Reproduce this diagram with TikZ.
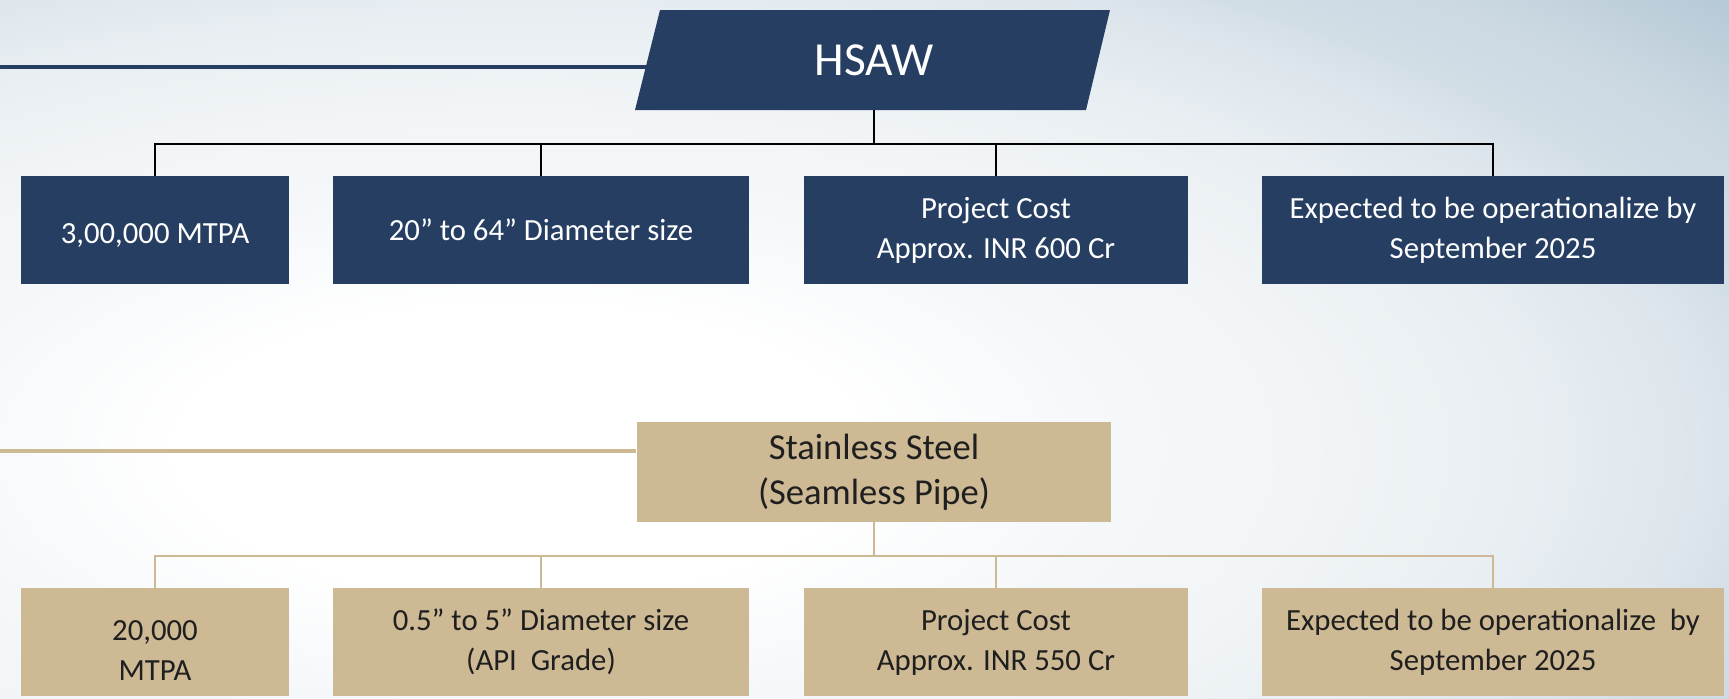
\documentclass[tikz,border=0pt]{standalone}
\usepackage{fontspec}
\setmainfont{Carlito}
\usetikzlibrary{positioning}

\definecolor{hsawblue}{RGB}{39,62,99}
\definecolor{sstan}{RGB}{205,185,148}
\definecolor{bgblue}{RGB}{166,189,205}
\pgfdeclareradialshading{bgglow}{\pgfpoint{0bp}{0bp}}{color(0bp)=(white); color(6bp)=(white); color(10bp)=(bgblue!10); color(14bp)=(bgblue!15); color(18.5bp)=(bgblue!27); color(21bp)=(bgblue!38); color(22.5bp)=(bgblue!50); color(25bp)=(bgblue!58); color(29bp)=(bgblue!85); color(37.5bp)=(bgblue!95)}

\tikzset{
  navybox/.style={fill=hsawblue, text=white, minimum height=2.16cm, inner sep=0pt,
    align=center, font=\fontsize{17.5}{22.8}\selectfont},
  tanbox/.style={navybox, fill=sstan, text=black!88},
  hsawline/.style={line width=0.85pt, black},
  ssline/.style={line width=1.1pt, sstan}
}

\begin{document}
\begin{tikzpicture}[x=0.02cm, y=-0.02cm]
  \useasboundingbox (0,0) rectangle (1729,698);
  \begin{scope}
    \clip (0,0) rectangle (1729,698);
    \shade[shading=bgglow] (-880,-150) rectangle (1920,1050);
  \end{scope}

  \coordinate (hsawfeed) at (0,67);
  \draw[hsawblue, line width=2.8pt] (hsawfeed) -- (660,67);
  \fill[hsawblue] (635,110) -- (660,10) -- (1110,10) -- (1086,110) -- cycle;
  \node[minimum width=9cm, minimum height=2cm, inner sep=0pt, text=white,
    font=\fontsize{27}{32}\selectfont] (hsaw) at (874,60) {HSAW};

  \node[navybox, minimum width=5.36cm] (h1) at (155,230) {\rule{0pt}{0.63cm}3,00,000 MTPA};
  \node[navybox, minimum width=8.32cm] (h2) at (541,230) {20” to 64” Diameter size};
  \node[navybox, minimum width=7.70cm] (h3) at (996,230) {Project Cost\\Approx. INR 600 Cr};
  \node[navybox, minimum width=9.24cm] (h4) at (1493,230) {Expected to be operationalize by\\September 2025};

  \coordinate (hjoin) at (874,144);
  \draw[hsawline] (hsaw.south) -- (hjoin);
  \foreach \b in {h1,h2,h3,h4}
    \draw[hsawline] (\b.north) |- (hjoin);

  \node[tanbox, minimum width=9.5cm, minimum height=2cm,
    font=\fontsize{20.8}{25.6}\selectfont] (ss) at (874,472) {Stainless Steel\\(Seamless Pipe)};
  \coordinate (ssfeed) at (0,451);
  \draw[sstan, line width=2.8pt] (ssfeed) -- (ssfeed -| ss.west);

  \node[tanbox, minimum width=5.36cm] (s1) at (155,642) {\rule{0pt}{0.75cm}20,000\\MTPA};
  \node[tanbox, minimum width=8.32cm] (s2) at (541,642) {0.5” to 5” Diameter size\\(API~ Grade)};
  \node[tanbox, minimum width=7.70cm] (s3) at (996,642) {Project Cost\\Approx. INR 550 Cr};
  \node[tanbox, minimum width=9.24cm] (s4) at (1493,642) {Expected to be operationalize~ by\\September 2025};

  \coordinate (sjoin) at (874,556);
  \draw[ssline] (ss.south) -- (sjoin);
  \foreach \b in {s1,s2,s3,s4}
    \draw[ssline] (\b.north) |- (sjoin);
\end{tikzpicture}
\end{document}
